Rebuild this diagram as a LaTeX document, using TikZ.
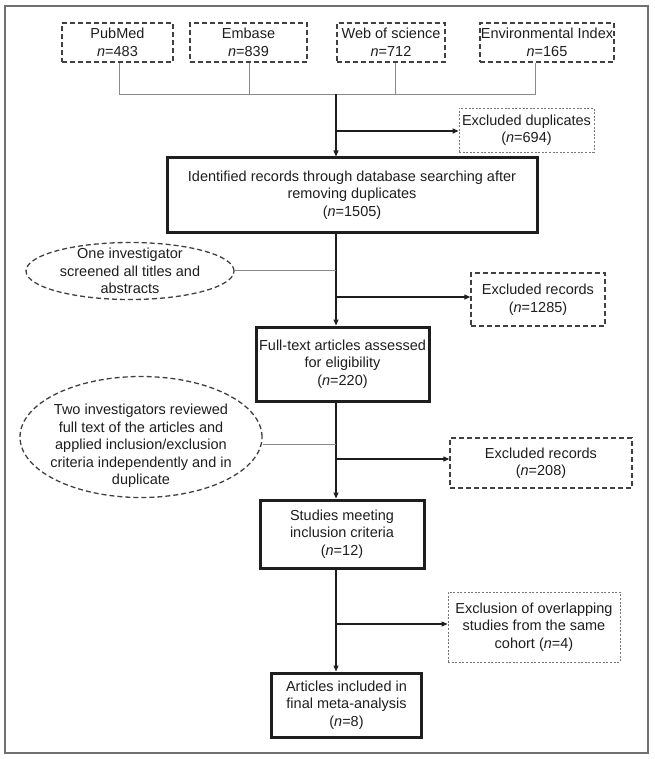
\documentclass[tikz,border=0pt]{standalone}
\usepackage{fontspec}
\setmainfont{Liberation Sans}
\usetikzlibrary{shapes.geometric,arrows.meta}
\definecolor{ink}{HTML}{1E1E1E}
\definecolor{dashgray}{HTML}{404040}
\definecolor{lightdash}{HTML}{777777}
\definecolor{feedgray}{HTML}{8A8A8A}
\definecolor{framegray}{HTML}{707070}
\begin{document}
\begin{tikzpicture}[x=1pt,y=-1pt,
  every node/.style={font=\fontsize{14.5}{17.5}\selectfont, align=center, inner sep=0pt, text=ink},
  srcbox/.style={draw=dashgray, dash pattern=on 5pt off 3pt, line width=1.6pt, minimum height=39pt},
  mainbox/.style={draw=ink, line width=3pt},
  exbox/.style={draw=dashgray, dash pattern=on 5pt off 3pt, line width=1.4pt},
  finebox/.style={draw=lightdash, dash pattern=on 2pt off 1.6pt, line width=0.9pt},
  ellbox/.style={ellipse, draw=dashgray, dash pattern=on 5pt off 3pt, line width=1.3pt},
  feed/.style={draw=feedgray, line width=1pt},
  flow/.style={draw=ink, line width=1.2pt, -{Triangle[length=6pt,width=5pt]}}
]
\useasboundingbox (0,0) rectangle (654,759);
\draw[framegray, line width=1.6pt] (5,6) rectangle (648,753);

% sources
\node[srcbox, minimum width=111pt] (pub) at (117.5,42.5) {PubMed\\\textit{n}=483};
\node[srcbox, minimum width=117pt] (emb) at (248.5,42.5) {Embase\\\textit{n}=839};
\node[srcbox, minimum width=108pt] (web) at (391,42.5) {Web of science\\\textit{n}=712};
\node[srcbox, minimum width=134pt] (env) at (547,42.5) {Environmental Index\\\textit{n}=165};

\node[finebox, minimum width=135pt, minimum height=44pt] (dup) at (526.5,130) {Excluded duplicates\\(\textit{n}=694)};
\node[mainbox, minimum width=370pt, minimum height=74pt] (main) at (352,195) {Identified records through database searching after\\removing duplicates\\(\textit{n}=1505)};

\node[ellbox, minimum width=208pt, minimum height=57pt] (ell1) at (130,271) {};
\node (ell1t) at (130,271) {One investigator\\screened all titles and\\abstracts};
\node[exbox, minimum width=134pt, minimum height=53pt] (rec1) at (538,299.5) {Excluded records\\(\textit{n}=1285)};

\node[mainbox, minimum width=173pt, minimum height=74pt] (full) at (342.5,364) {Full-text articles assessed\\for eligibility\\(\textit{n}=220)};

\node[ellbox, minimum width=242pt, minimum height=121pt] (ell2) at (141,437) {};
\node (ell2t) at (141,446) {Two investigators reviewed\\full text of the articles and\\applied inclusion/exclusion\\criteria independently and in\\duplicate};
\node[exbox, minimum width=182pt, minimum height=50pt] (rec2) at (541,463) {Excluded records\\(\textit{n}=208)};

\node[mainbox, minimum width=164pt, minimum height=68pt] (stud) at (342,534) {Studies meeting\\inclusion criteria\\(\textit{n}=12)};

\node[finebox, minimum width=172pt, minimum height=70pt] (ovl) at (534,627) {Exclusion of overlapping\\studies from the same\\cohort (\textit{n}=4)};

\node[mainbox, minimum width=150pt, minimum height=64pt] (fin) at (346.5,705) {Articles included in\\final meta-analysis\\(\textit{n}=8)};

% connectors
\coordinate (d1) at (119,94.5);
\coordinate (d2) at (249,94.5);
\coordinate (d3) at (395,94.5);
\coordinate (d4) at (535,94.5);
\coordinate (j0) at (336,94.5);
\draw[feed] (d1 |- pub.south) -- (d1) -- (d4) -- (d4 |- env.south);
\draw[feed] (d2 |- emb.south) -- (d2);
\draw[feed] (d3 |- web.south) -- (d3);
\draw[flow] (j0) -- (main.north -| j0);
\coordinate (b1) at (336,131);
\draw[flow] (b1) -- (b1 -| dup.west);

\draw[flow] (main.south -| j0) -- (full.north -| j0);
\coordinate (e1) at (336,270);
\draw[feed] (ell1.east |- e1) -- (e1);
\coordinate (b2) at (336,297);
\draw[flow] (b2) -- (b2 -| rec1.west);

\draw[flow] (full.south -| j0) -- (stud.north -| j0);
\coordinate (e2) at (336,444);
\draw[feed] (ell2.east |- e2) -- (e2);
\coordinate (b3) at (336,459);
\draw[flow] (b3) -- (b3 -| rec2.west);

\draw[flow] (stud.south -| j0) -- (fin.north -| j0);
\coordinate (b4) at (336,624);
\draw[flow] (b4) -- (b4 -| ovl.west);
\end{tikzpicture}
\end{document}
